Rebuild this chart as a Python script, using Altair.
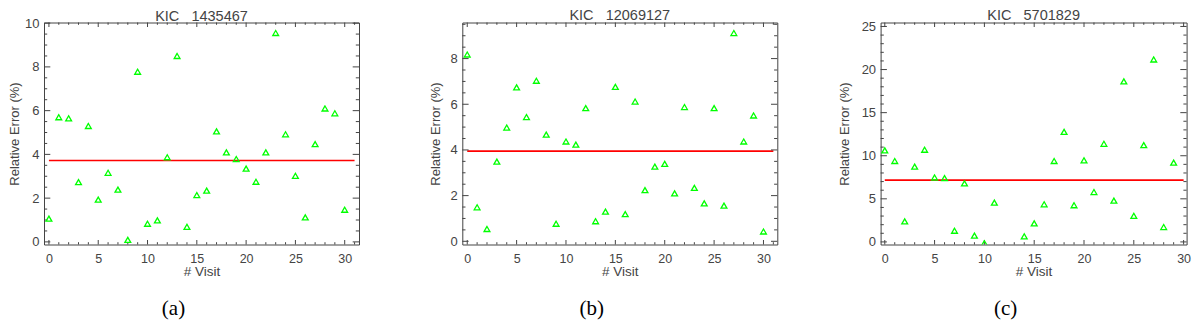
import altair as alt
import pandas as pd
import numpy as np

# ---------------- data ----------------
titles = ["KIC\u00a0\u00a0\u00a01435467", "KIC\u00a0\u00a0\u00a012069127", "KIC\u00a0\u00a0\u00a05701829"]
captions = ["(a)", "(b)", "(c)"]

visits_a = list(range(31))
err_a = [1.06, 5.70, 5.65, 2.73, 5.30, 1.93, 3.16, 2.39, 0.09, 7.78,
         0.83, 0.98, 3.87, 8.50, 0.69, 2.14, 2.34, 5.05, 4.09, 3.79,
         3.35, 2.75, 4.09, 9.55, 4.92, 3.02, 1.12, 4.47, 6.10, 5.88, 1.47]
mean_a = 3.72

visits_b = list(range(31))
err_b = [8.18, 1.49, 0.54, 3.49, 4.98, 6.74, 5.44, 7.03, 4.67, 0.77,
         4.37, 4.23, 5.83, 0.88, 1.30, 6.76, 1.19, 6.12, 2.24, 3.27,
         3.39, 2.10, 5.88, 2.34, 1.66, 5.83, 1.56, 9.12, 4.37, 5.51, 0.43]
mean_b = 3.95

visits_c = [0, 1, 2, 3, 4, 5, 6, 7, 8, 9, 10, 11, 14, 15, 16, 17, 18, 19,
            20, 21, 22, 23, 24, 25, 26, 27, 28, 29]
err_c = [10.62, 9.39, 2.38, 8.74, 10.70, 7.48, 7.40, 1.30, 6.79, 0.73,
         -0.15, 4.56, 0.65, 2.15, 4.37, 9.39, 12.77, 4.26, 9.47, 5.79,
         11.39, 4.79, 18.63, 3.03, 11.23, 21.17, 1.73, 9.20]
mean_c = 7.17

x_ticks = [0, 5, 10, 15, 20, 25, 30]
y_ticks_a = [0, 2, 4, 6, 8, 10]
y_ticks_b = [0, 2, 4, 6, 8]
y_ticks_c = [0, 5, 10, 15, 20, 25]

# ---------------- style ----------------
FRAME = "#444444"
TEXT = "#444444"
FONT = "Liberation Sans"
H = 222


def tick_values(lo, hi, step):
    start = np.ceil((lo - 1e-9) / step) * step
    return [float(v) for v in np.round(np.arange(start, hi + 1e-9, step), 6)]


def panel(title, caption, visits, errs, mean, xdom, ydom, yticks, ymajor, yminor,
          W, ytitle_pad, title_offset):
    pts = pd.DataFrame({"visit": visits, "err": errs})
    mean_df = pd.DataFrame({"x0": [0], "x1": [max(visits) + 1], "m": [mean]})
    cap_df = pd.DataFrame({"cap": [caption]})

    xs = alt.Scale(domain=xdom, nice=False, zero=False)
    ys = alt.Scale(domain=ydom, nice=False, zero=False)

    x_major = pd.DataFrame({"v": tick_values(xdom[0], xdom[1], 5)})
    x_minor = pd.DataFrame({"v": [v for v in tick_values(xdom[0], xdom[1], 1) if v % 5]})
    y_major = pd.DataFrame({"v": tick_values(ydom[0], ydom[1], ymajor)})
    y_minor = pd.DataFrame({"v": [v for v in tick_values(ydom[0], ydom[1], yminor)
                                  if abs(v / ymajor - round(v / ymajor)) > 1e-6]})

    points = alt.Chart(pts).mark_point(
        shape="triangle-up", filled=False, color="#00ff00", size=34,
        strokeWidth=1.3, opacity=1, clip=True
    ).encode(
        x=alt.X("visit:Q", scale=xs,
                axis=alt.Axis(values=x_ticks, format="d", title="# Visit",
                              ticks=False, domain=False, grid=False,
                              labelPadding=7.5, labelFontSize=12.5, labelColor=TEXT,
                              labelFont=FONT, titleFont=FONT, titleFontSize=13.5,
                              titleColor=TEXT, titleFontWeight="normal",
                              titleY=19.5, titleBaseline="top")),
        y=alt.Y("err:Q", scale=ys,
                axis=alt.Axis(values=yticks, format="d", title="Relative Error (%)",
                              ticks=False, domain=False, grid=False,
                              labelPadding=5, labelFontSize=13, labelColor=TEXT,
                              labelFont=FONT, titleFont=FONT, titleFontSize=13,
                              titleColor=TEXT, titleFontWeight="normal",
                              titlePadding=ytitle_pad)),
    )

    mline = alt.Chart(mean_df).mark_rule(color="#ff0000", strokeWidth=1.6).encode(
        x=alt.X("x0:Q", scale=xs), x2="x1:Q", y=alt.Y("m:Q", scale=ys)
    )

    def yrule(df, a, b):
        return alt.Chart(df).mark_rule(color=FRAME, strokeWidth=1).encode(
            y=alt.Y("v:Q", scale=ys), x=alt.value(a), x2=alt.value(b))

    def xrule(df, a, b):
        return alt.Chart(df).mark_rule(color=FRAME, strokeWidth=1).encode(
            x=alt.X("v:Q", scale=xs), y=alt.value(a), y2=alt.value(b))

    ticks = [
        yrule(y_major, 0, 6.3), yrule(y_minor, 0, 3.2),
        yrule(y_major, W - 6.3, W), yrule(y_minor, W - 3.2, W),
        xrule(x_major, H - 4.5, H), xrule(x_minor, H - 2.3, H),
        xrule(x_major, 0, 4.5), xrule(x_minor, 0, 2.3),
    ]

    cap = alt.Chart(cap_df).mark_text(font="Liberation Serif", fontSize=21,
                                      color="#000000", baseline="middle").encode(
        text="cap:N", x=alt.value(W / 2 - 28), y=alt.value(H + 64.5))

    return alt.layer(mline, *ticks, points, cap).properties(
        width=W, height=H,
        title=alt.Title(title, font=FONT, fontSize=14.5, color=TEXT,
                        fontWeight="normal", offset=title_offset, anchor="middle",
                        frame="group"))


pa = panel(titles[0], captions[0], visits_a, err_a, mean_a, [-0.5, 31.45],
           [-0.12, 10.03], y_ticks_a, 2, 0.5, 315, 3, -6.85)
pb = panel(titles[1], captions[1], visits_b, err_b, mean_b, [-0.5, 31.4],
           [-0.14, 9.58], y_ticks_b, 2, 0.5, 315, 8, -1)
pc = panel(titles[2], captions[2], visits_c, err_c, mean_c, [-0.42, 30.3],
           [-0.3, 25.46], y_ticks_c, 5, 1, 306, 10, -3.5)

chart = alt.hconcat(pa, pb, pc, spacing=103.3, bounds="flush").properties(
    padding={"left": 0, "top": -1.5, "right": 0, "bottom": 0},
    background="white"
).configure_view(stroke=FRAME, strokeWidth=1)

chart.save("out.html", embed_options={"renderer": "svg", "actions": False})
